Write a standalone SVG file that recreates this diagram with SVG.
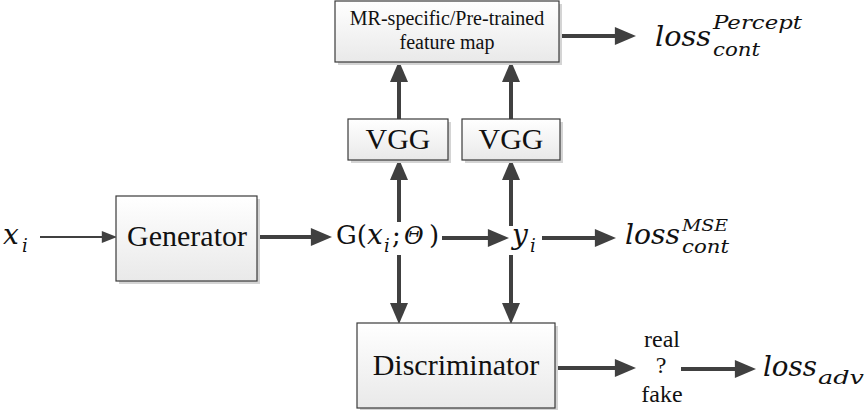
<svg xmlns="http://www.w3.org/2000/svg" width="867" height="412" viewBox="0 0 867 412">
<defs>
<linearGradient id="boxfill" x1="0" y1="0" x2="0" y2="1">
<stop offset="0" stop-color="#ffffff"/>
<stop offset="1" stop-color="#e9e9e9"/>
</linearGradient>
<marker id="ah" markerUnits="userSpaceOnUse" markerWidth="22" markerHeight="18" viewBox="0 0 20 17" refX="2" refY="8.5" orient="auto">
<path d="M0,0 L20,8.5 L0,17 z" fill="#404040"/>
</marker>
<marker id="ahs" markerUnits="userSpaceOnUse" markerWidth="16" markerHeight="12" viewBox="0 0 14 11" refX="2" refY="5.5" orient="auto">
<path d="M0,0 L14,5.5 L0,11 z" fill="#404040"/>
</marker>
</defs>
<style>
.box{fill:url(#boxfill);stroke:#3a3a3a;stroke-width:1.2}
.shadow{fill:#d4d4d4}
.lbl{fill:#111;text-anchor:middle}
.big{font-size:30px}
.mid{font-size:20px}
.sm{font-size:24px}
.math{font-style:italic;fill:#111}
.up{fill:#111}
.thick{stroke:#404040;stroke-width:4;fill:none;marker-end:url(#ah)}
.thin{stroke:#404040;stroke-width:2;fill:none;marker-end:url(#ahs)}
</style>
<rect width="867" height="412" fill="#ffffff"/>

<g id="connectors">
<line class="thin" x1="40" y1="237" x2="104" y2="237"/>
<line class="thick" x1="258" y1="237" x2="313" y2="237"/>
<line class="thick" x1="442" y1="238" x2="490" y2="238"/>
<line class="thick" x1="542" y1="238" x2="597" y2="238"/>
<line class="thick" x1="560" y1="36" x2="617" y2="36"/>
<line class="thick" x1="399" y1="119" x2="399" y2="80"/>
<line class="thick" x1="511" y1="119" x2="511" y2="80"/>
<line class="thick" x1="399" y1="222" x2="399" y2="178"/>
<line class="thick" x1="399" y1="255" x2="399" y2="305"/>
<line class="thick" x1="511" y1="226" x2="511" y2="178"/>
<line class="thick" x1="511" y1="255" x2="511" y2="305"/>
<line class="thick" x1="555" y1="368" x2="617" y2="368"/>
<line class="thick" x1="681" y1="369" x2="737" y2="369"/>
</g>

<g id="node-feature-map" font-family="'Liberation Serif', 'Times New Roman', Times, serif">
<rect class="shadow" x="338" y="4" width="224" height="61"/>
<rect class="box" x="335" y="1" width="224" height="61"/>
<text class="lbl mid" x="447" y="25">MR-specific/Pre-trained</text>
<text class="lbl mid" x="447" y="49">feature map</text>
</g>

<g id="node-vgg1" font-family="'Liberation Serif', 'Times New Roman', Times, serif">
<rect class="shadow" x="351" y="122" width="100" height="41"/>
<rect class="box" x="348" y="119" width="100" height="41"/>
<text class="lbl big" x="398" y="149">VGG</text>
</g>

<g id="node-vgg2" font-family="'Liberation Serif', 'Times New Roman', Times, serif">
<rect class="shadow" x="465" y="122" width="98" height="41"/>
<rect class="box" x="462" y="119" width="98" height="41"/>
<text class="lbl big" x="511" y="149">VGG</text>
</g>

<g id="node-generator" font-family="'Liberation Serif', 'Times New Roman', Times, serif">
<rect class="shadow" x="119" y="199" width="141" height="85"/>
<rect class="box" x="116" y="196" width="141" height="85"/>
<text class="lbl big" x="187" y="246">Generator</text>
</g>

<g id="node-discriminator" font-family="'Liberation Serif', 'Times New Roman', Times, serif">
<rect class="shadow" x="360" y="326" width="198" height="84"/>
<rect class="box" x="357" y="323" width="198" height="85"/>
<text class="lbl big" x="456" y="375">Discriminator</text>
</g>

<g id="node-xi" font-family="'DejaVu Serif', serif">
<text class="math" x="3" y="244" font-size="28">x</text>
<text class="math" x="22" y="252" font-size="18">i</text>
</g>

<g id="node-gx" font-family="'DejaVu Serif', serif">
<text class="up" x="336" y="244" font-size="26">G(</text>
<text class="math" x="367" y="244" font-size="28">x</text>
<text class="math" x="384" y="252" font-size="18">i</text>
<text class="up" x="392" y="244" font-size="26">;</text>
<text class="math" x="404" y="244" font-size="24">Θ</text>
<text class="up" x="429" y="244" font-size="26">)</text>
</g>

<g id="node-yi" font-family="'DejaVu Serif', serif">
<text class="math" x="512" y="244" font-size="28">y</text>
<text class="math" x="530" y="252" font-size="18">i</text>
</g>

<g id="node-loss-mse" font-family="'DejaVu Serif', serif">
<text class="math" x="625" y="244" font-size="28" textLength="55" lengthAdjust="spacingAndGlyphs">loss</text>
<text class="math" x="682" y="231" font-size="16" textLength="46" lengthAdjust="spacingAndGlyphs">MSE</text>
<text class="math" x="682" y="253" font-size="18" textLength="47" lengthAdjust="spacingAndGlyphs">cont</text>
</g>

<g id="node-loss-percept" font-family="'DejaVu Serif', serif">
<text class="math" x="655" y="46" font-size="28" textLength="56" lengthAdjust="spacingAndGlyphs">loss</text>
<text class="math" x="713" y="29" font-size="19" textLength="89" lengthAdjust="spacingAndGlyphs">Percept</text>
<text class="math" x="713" y="56" font-size="18" textLength="47" lengthAdjust="spacingAndGlyphs">cont</text>
</g>

<g id="node-realfake" font-family="'Liberation Serif', 'Times New Roman', Times, serif">
<text class="lbl sm" x="662" y="347">real</text>
<text class="lbl sm" x="661" y="373">?</text>
<text class="lbl sm" x="662" y="402">fake</text>
</g>

<g id="node-loss-adv" font-family="'DejaVu Serif', serif">
<text class="math" x="763" y="376" font-size="28" textLength="54" lengthAdjust="spacingAndGlyphs">loss</text>
<text class="math" x="818" y="384" font-size="19" textLength="46" lengthAdjust="spacingAndGlyphs">adv</text>
</g>
</svg>
